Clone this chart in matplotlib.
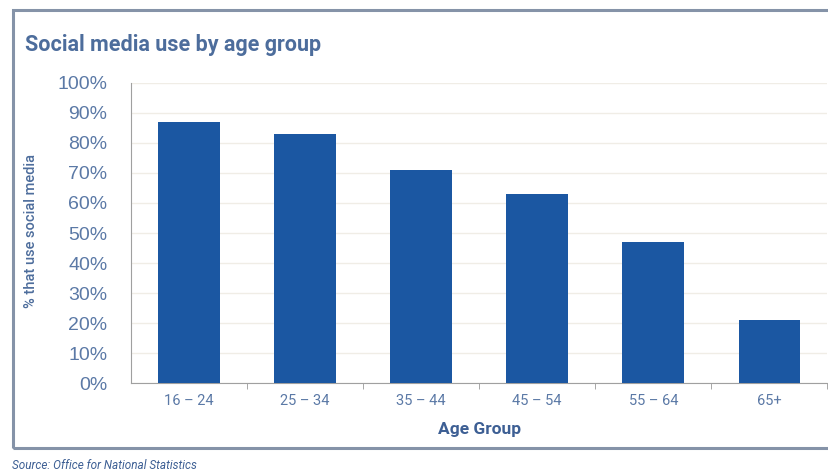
import matplotlib.pyplot as plt
from matplotlib.patches import Rectangle
from matplotlib.ticker import FixedLocator, PercentFormatter

age_groups = ['16 – 24', '25 – 34', '35 – 44', '45 – 54', '55 – 64', '65+']
pct_use = [87, 83, 71, 63, 47, 21]
y_ticks = [0, 10, 20, 30, 40, 50, 60, 70, 80, 90, 100]

narrow = ['Roboto', 'DejaVu Sans']
label_col = '#5b79a6'
bar_col = '#1b57a2'

fig = plt.figure(figsize=(8.29, 4.76), dpi=100)
fig.patch.set_facecolor('white')

# outer frame round the chart
fig.patches.append(Rectangle((0.016, 0.059), 0.99, 0.92, transform=fig.transFigure,
                             fill=False, edgecolor='#8593a8', linewidth=2.2))

ax = fig.add_axes([0.158, 0.195, 0.84, 0.631])
x = range(len(age_groups))
ax.bar(x, pct_use, width=0.53, color=bar_col, zorder=3)

ax.set_xlim(-0.5, len(age_groups) - 0.5)
ax.set_ylim(0, 100)
ax.set_yticks(y_ticks)
ax.yaxis.set_major_formatter(PercentFormatter(decimals=0))
ax.tick_params(axis='y', length=0, pad=17, labelsize=14, labelcolor=label_col)
for lab in ax.get_yticklabels():
    lab.set_family('Liberation Sans')

ax.set_xticks(list(x))
ax.set_xticklabels(age_groups, family=narrow, fontsize=10.5, color=label_col)
ax.xaxis.set_minor_locator(FixedLocator([i + 0.5 for i in x]))
ax.tick_params(axis='x', which='major', length=0, pad=8)
ax.tick_params(axis='x', which='minor', length=4, color='#999999', direction='out')

ax.grid(axis='y', color='#f0ede6', linewidth=1, zorder=0)
for s in ['top', 'right']:
    ax.spines[s].set_visible(False)
ax.spines['left'].set_color('#a0a0a0')
ax.spines['bottom'].set_color('#a0a0a0')

ax.set_xlabel('Age Group', family=narrow, fontsize=12.5, fontweight='bold',
              color='#3d5f94', labelpad=10)

fig.text(0.030, 0.905, 'Social media use by age group', family=narrow, fontsize=15.5,
         fontweight='bold', color='#4d6d9c', va='center', ha='left')
fig.text(0.037, 0.515, '% that use social media', family=narrow, fontsize=10.5,
         fontweight='medium', color='#4d6d9c', rotation=90, va='center', ha='center')
fig.text(0.014, 0.022, 'Source: Office for National Statistics', family=narrow,
         fontsize=8.5, style='italic', color='#3d5f94', va='center', ha='left')

fig.savefig('out.png', dpi=100)
